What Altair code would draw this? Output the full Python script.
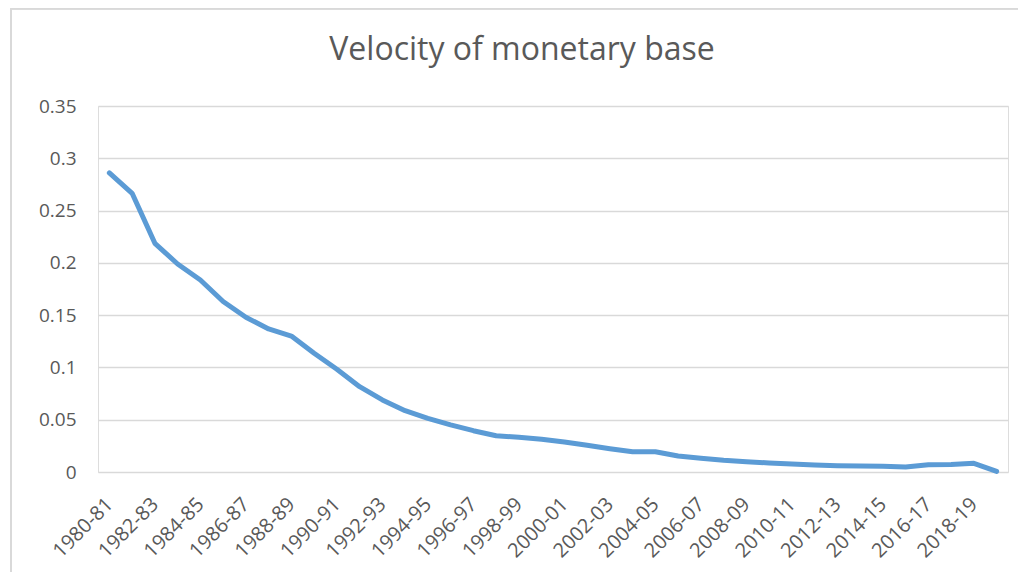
import altair as alt
import pandas as pd

years = ["1980-81", "1981-82", "1982-83", "1983-84", "1984-85", "1985-86", "1986-87", "1987-88",
         "1988-89", "1989-90", "1990-91", "1991-92", "1992-93", "1993-94", "1994-95", "1995-96",
         "1996-97", "1997-98", "1998-99", "1999-00", "2000-01", "2001-02", "2002-03", "2003-04",
         "2004-05", "2005-06", "2006-07", "2007-08", "2008-09", "2009-10", "2010-11", "2011-12",
         "2012-13", "2013-14", "2014-15", "2015-16", "2016-17", "2017-18", "2018-19", "2019-20"]
velocity = [0.286, 0.2665, 0.2187, 0.1989, 0.1836, 0.163, 0.148, 0.1368,
            0.130, 0.1135, 0.0982, 0.0816, 0.0689, 0.0586, 0.0513, 0.045,
            0.0395, 0.0347, 0.0332, 0.0313, 0.0287, 0.0255, 0.0223, 0.0194,
            0.0194, 0.0153, 0.0131, 0.0112, 0.0099, 0.0086, 0.0076, 0.0067,
            0.006, 0.0057, 0.0054, 0.0048, 0.007, 0.0072, 0.0083, 0.0005]
shown_labels = years[::2]
y_ticks = [0, 0.05, 0.1, 0.15, 0.2, 0.25, 0.3, 0.35]
title_text = ["Velocity of monetary base"]

df = pd.DataFrame({"year": years, "v": velocity})
title_df = pd.DataFrame({"t": title_text})

FONT = "Open Sans"
GRAY = "#595959"
GRID = "#d9d9d9"

line = alt.Chart(df).mark_line(
    color="#5b9bd5", strokeWidth=5, strokeCap="round", strokeJoin="round"
).encode(
    x=alt.X("year:N", sort=years, title=None,
            scale=alt.Scale(type="point", padding=0.5),
            axis=alt.Axis(values=shown_labels, labelAngle=-45, labelAlign="right",
                          labelBaseline="middle", ticks=False, domain=False,
                          labelPadding=29, labelFont=FONT, labelFontSize=20,
                          labelColor=GRAY, grid=False)),
    y=alt.Y("v:Q", title=None,
            scale=alt.Scale(domain=[0, 0.35], nice=False, zero=True),
            axis=alt.Axis(values=y_ticks, format="~g", ticks=False, domain=False,
                          labelPadding=22, labelFont=FONT, labelFontSize=19,
                          labelColor=GRAY, grid=True, gridColor=GRID, gridWidth=1.4)),
)

title = alt.Chart(title_df).mark_text(
    font=FONT, fontSize=32, color=GRAY, align="center", baseline="alphabetic"
).encode(
    text="t:N", x=alt.value(424), y=alt.value(-46)
)

left_border = alt.Chart(df).mark_rule(color=GRID, strokeWidth=1.5).encode(
    x=alt.value(-87), y=alt.value(-97.5), y2=alt.value(470)
)
top_border = alt.Chart(df).mark_rule(color=GRID, strokeWidth=1.5).encode(
    x=alt.value(-87), x2=alt.value(920), y=alt.value(-97.5)
)

chart = alt.layer(left_border, top_border, title, line).properties(
    width=910, height=366,
    autosize=alt.AutoSizeParams(type="none"),
    padding={"left": 90, "top": 98, "right": 14, "bottom": 100},
).configure_view(stroke=None).configure(background="white")

chart.save("out.html", embed_options={"renderer": "svg", "actions": False})
